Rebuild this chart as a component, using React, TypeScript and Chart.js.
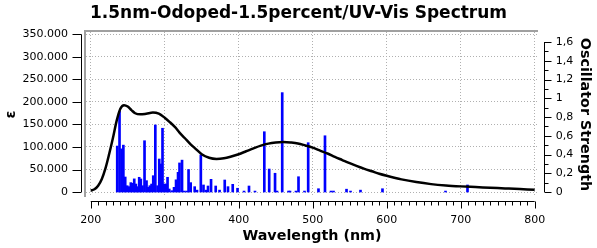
import React, { useEffect, useRef } from 'react';
import { Chart, registerables } from 'chart.js';

Chart.register(...registerables);

const titleText = '1.5nm-Odoped-1.5percent/UV-Vis Spectrum';
const xTitle = 'Wavelength (nm)';
const yTitle = 'ε';
const y2Title = 'Oscillator Strength';

const xTickValues = [200, 300, 400, 500, 600, 700, 800];
const yTickValues = [0, 50000, 100000, 150000, 200000, 250000, 300000, 350000];
const y2TickValues = [0, 0.2, 0.4, 0.6, 0.8, 1, 1.2, 1.4, 1.6];

const curveWavelengths = [
  200, 205, 210, 215, 220, 225, 230, 235, 240, 245, 250, 255, 260, 267, 275, 284, 292, 300,
  307, 314, 320, 327, 335, 341, 350, 360, 370, 380, 390, 400, 410, 420, 430, 440, 450, 460,
  470, 480, 490, 500, 510, 520, 530, 540, 550, 560, 570, 580, 590, 600, 620, 640, 660, 680,
  700, 720, 740, 760, 780, 800,
];
const curveEpsilon = [
  3000, 6000, 14000, 29000, 53000, 85000, 120000, 158000, 185000, 193000, 190000, 182000,
  175000, 172500, 174000, 176500, 174000, 165000, 155000, 144000, 132000, 120000, 106000,
  97000, 84000, 76000, 73500, 75000, 79000, 84000, 90500, 97000, 103000, 107500, 110000,
  111000, 110000, 108000, 103500, 98500, 92000, 85500, 78000, 71000, 64000, 57500, 51500,
  46000, 40500, 36000, 28000, 22000, 17500, 14500, 12500, 11000, 9500, 8000, 6500, 5000,
];

const barWavelengths = [
  235.8, 238.9, 241.6, 244.1, 246.6, 249.3, 252.0, 254.2, 256.5, 258.8, 261.0, 263.2, 265.5,
  267.7, 270.0, 272.7, 275.4, 277.7, 279.9, 282.2, 284.5, 287.3, 290.3, 292.6, 294.7, 297.0,
  299.3, 301.8, 303.8, 306.1, 309.5, 312.6, 315.3, 318.0, 320.0, 323.4, 326.1, 329.5, 332.2,
  335.1, 340.5, 343.6, 348.8, 352.4, 355.8, 358.5, 362.6, 368.9, 374.1, 381.1, 385.5, 391.9,
  398.4, 407.2, 413.9, 422.0, 434.6, 441.2, 449.1, 451.8, 458.8, 467.3, 469.3, 477.4, 480.8,
  488.9, 493.9, 507.8, 516.6, 524.7, 528.1, 545.7, 551.1, 564.6, 594.3, 679.5, 709.2,
];
const barStrengths = [
  0.49, 0.86, 0.46, 0.5, 0.16, 0.067, 0.057, 0.1, 0.093, 0.14, 0.085, 0.057, 0.157,
  0.139, 0.067, 0.547, 0.121, 0.05, 0.067, 0.085, 0.174, 0.715, 0.067, 0.352, 0.299, 0.68,
  0.085, 0.085, 0.157, 0.032, 0.014, 0.05, 0.13, 0.21, 0.31, 0.34, 0.01, 0.01, 0.24,
  0.1, 0.057, 0.02, 0.395, 0.075, 0.02, 0.064, 0.135, 0.064, 0.02, 0.128, 0.057, 0.082,
  0.04, 0.01, 0.064, 0.01, 0.643, 0.245, 0.2, 0.01, 1.06, 0.01, 0.01, 0.01, 0.163,
  0.01, 0.526, 0.035, 0.6, 0.01, 0.01, 0.03, 0.01, 0.02, 0.035, 0.01, 0.075,
];

const FONT = 'DejaVu Sans';

const fmtThousands = (v: number) => String(Math.round(v)).replace(/\B(?=(\d{3})+(?!\d))/g, '.');
const fmtComma = (v: number) => String(Math.round(v * 10) / 10).replace('.', ',');

const decorPlugin = {
  id: 'decor',
  afterDraw(chart: any) {
    const { ctx, chartArea, scales } = chart;
    const xs = scales.x;
    const ys = scales.y;
    const y2s = scales.y2;
    ctx.save();
    // gray inset frame (top + left)
    ctx.strokeStyle = '#a0a0a0';
    ctx.lineWidth = 2;
    ctx.beginPath();
    ctx.moveTo(chartArea.left - 1, chartArea.bottom);
    ctx.lineTo(chartArea.left - 1, chartArea.top - 1);
    ctx.lineTo(chartArea.right, chartArea.top - 1);
    ctx.stroke();

    ctx.strokeStyle = '#000';
    ctx.lineWidth = 1;
    // left axis
    const lx = Math.round(chartArea.left - 5) + 0.5;
    const y0 = ys.getPixelForValue(yTickValues[0]);
    const y1 = ys.getPixelForValue(yTickValues[yTickValues.length - 1]);
    ctx.beginPath();
    ctx.moveTo(lx, y0);
    ctx.lineTo(lx, y1);
    yTickValues.forEach((v) => {
      const p = Math.round(ys.getPixelForValue(v)) + 0.5;
      ctx.moveTo(lx - 9, p);
      ctx.lineTo(lx, p);
    });
    ctx.stroke();

    // bottom axis
    const by = Math.round(chartArea.bottom + 4) + 0.5;
    const xa = xs.getPixelForValue(xTickValues[0]);
    const xb = xs.getPixelForValue(xTickValues[xTickValues.length - 1]);
    ctx.beginPath();
    ctx.moveTo(xa, by);
    ctx.lineTo(xb, by);
    for (let v = xTickValues[0]; v <= xTickValues[xTickValues.length - 1]; v += 10) {
      const p = Math.round(xs.getPixelForValue(v)) + 0.5;
      const major = v % 100 === 0;
      ctx.moveTo(p, by);
      ctx.lineTo(p, by + (major ? 7 : 4));
    }
    ctx.stroke();

    // right axis
    const rx = Math.round(chartArea.right + 6) + 0.5;
    const r0 = y2s.getPixelForValue(y2TickValues[0]);
    const r1 = y2s.getPixelForValue(y2TickValues[y2TickValues.length - 1]);
    ctx.beginPath();
    ctx.moveTo(rx, r0);
    ctx.lineTo(rx, r1);
    for (let i = 0; i <= 16; i++) {
      const v = i / 10;
      const p = Math.round(y2s.getPixelForValue(v)) + 0.5;
      ctx.moveTo(rx, p);
      ctx.lineTo(rx + (i % 2 === 0 ? 7 : 4), p);
    }
    ctx.stroke();
    ctx.restore();
  },
};

export default function App() {
  const ref = useRef<HTMLCanvasElement | null>(null);

  useEffect(() => {
    document.body.style.margin = '0';
    const canvas = ref.current;
    if (!canvas) return;
    const tickFont = { family: FONT, size: 11 };
    const axisTitleFont = { family: FONT, size: 14.3, weight: 'bold' as const };
    const chart = new Chart(canvas, {
      type: 'bar',
      data: {
        datasets: [
          {
            type: 'line',
            label: 'ε',
            data: curveWavelengths.map((w, i) => ({ x: w, y: curveEpsilon[i] })),
            borderColor: '#000',
            borderWidth: 2.5,
            pointRadius: 0,
            cubicInterpolationMode: 'monotone',
            yAxisID: 'y',
            order: 1,
          } as any,
          {
            type: 'bar',
            label: 'f',
            data: barWavelengths.map((w, i) => ({ x: w, y: barStrengths[i] })),
            backgroundColor: '#0000ff',
            borderWidth: 0,
            barThickness: 2,
            yAxisID: 'y2',
            order: 2,
          } as any,
        ],
      },
      options: {
        responsive: false,
        animation: false,
        devicePixelRatio: 1,
        layout: { padding: 0 },
        plugins: {
          legend: { display: false },
          tooltip: { enabled: false },
          title: {
            display: true,
            text: titleText,
            color: '#000',
            font: { family: FONT, size: 17, weight: 'bold' },
            padding: { top: 3, bottom: 8.6 },
          },
        },
        scales: {
          x: {
            type: 'linear',
            position: 'bottom',
            min: 193.6,
            max: 804.5,
            offset: false,
            afterFit: (s: any) => {
              s.height = 51;
            },
            afterBuildTicks: (s: any) => {
              s.ticks = xTickValues.map((v) => ({ value: v }));
            },
            grid: { display: true, drawOnChartArea: true, drawTicks: false, color: '#b0b0b0', offset: false },
            border: { display: false, dash: [1, 2] },
            ticks: { color: '#000', font: tickFont, padding: 16.4, maxRotation: 0, autoSkip: false },
            title: { display: true, text: xTitle, color: '#000', font: axisTitleFont, padding: { top: 0, bottom: 2.7 } },
          },
          y: {
            type: 'linear',
            position: 'left',
            min: -11111,
            max: 355555,
            afterFit: (s: any) => {
              s.width = 86;
            },
            afterBuildTicks: (s: any) => {
              s.ticks = yTickValues.map((v) => ({ value: v }));
            },
            grid: { display: true, drawOnChartArea: true, drawTicks: false, color: '#b0b0b0' },
            border: { display: false, dash: [1, 2] },
            ticks: { color: '#000', font: tickFont, padding: 18, callback: (v: any) => fmtThousands(Number(v)) },
            title: { display: true, text: yTitle, color: '#000', font: axisTitleFont, padding: { top: 2.9, bottom: 0 } },
          },
          y2: {
            type: 'linear',
            position: 'right',
            min: -0.0533,
            max: 1.7067,
            afterFit: (s: any) => {
              s.width = 59;
            },
            afterBuildTicks: (s: any) => {
              s.ticks = y2TickValues.map((v) => ({ value: v }));
            },
            grid: { display: false, drawOnChartArea: false, drawTicks: false },
            border: { display: false },
            ticks: { color: '#000', font: tickFont, padding: 17.7, callback: (v: any) => fmtComma(Number(v)) },
            title: { display: true, text: y2Title, color: '#000', font: axisTitleFont, padding: { top: 3.4, bottom: 0 } },
          },
        },
      },
      plugins: [decorPlugin],
    } as any);
    return () => chart.destroy();
  }, []);

  return (
    <div style={{ width: 597, height: 248 }}>
      <canvas ref={ref} width={597} height={248} style={{ display: 'block' }} />
    </div>
  );
}
